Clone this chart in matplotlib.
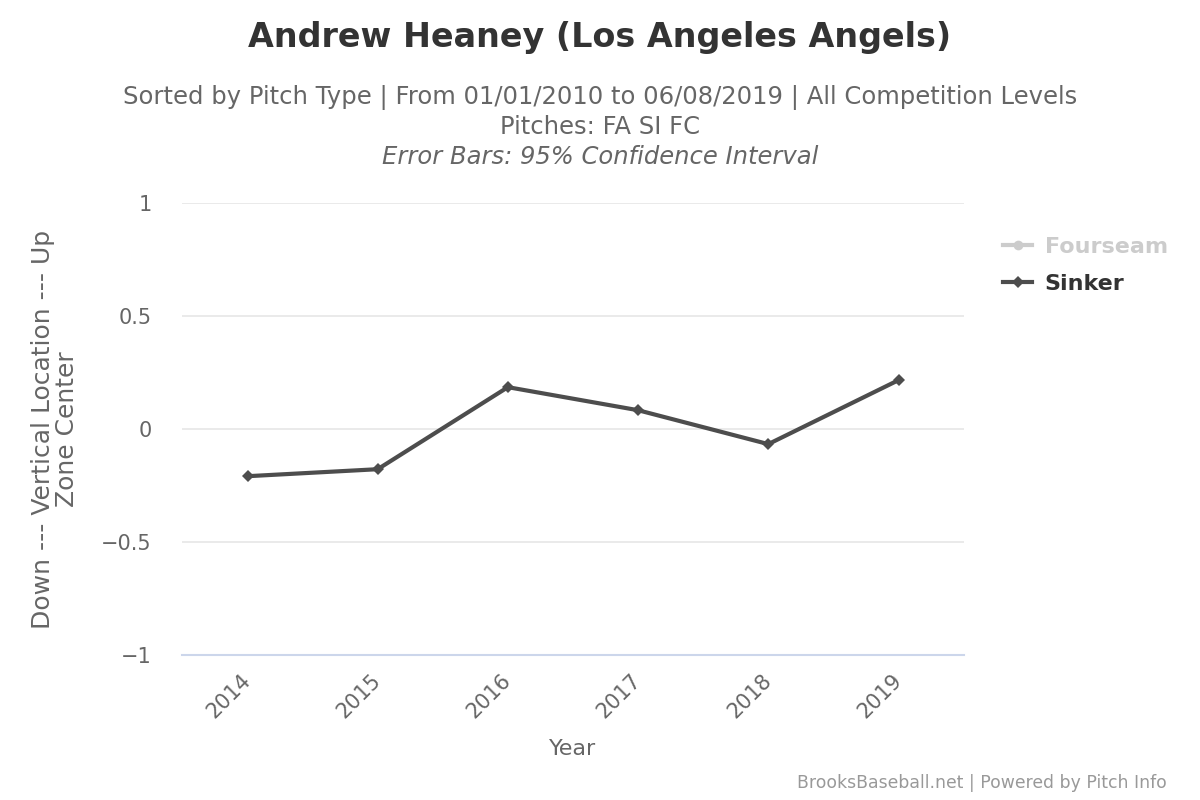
import matplotlib
matplotlib.use("Agg")
import matplotlib.pyplot as plt
import matplotlib.transforms as mtransforms
from matplotlib.lines import Line2D

plt.rcParams['font.family'] = ['DejaVu Sans']

years = ["2014", "2015", "2016", "2017", "2018", "2019"]
sinker = [-0.208, -0.177, 0.186, 0.084, -0.066, 0.217]
y_ticks = [-1, -0.5, 0, 0.5, 1]
y_labels = ["\u22121", "\u22120.5", "0", "0.5", "1"]

fig = plt.figure(figsize=(12, 8), dpi=100)
ax = fig.add_axes([0.152, 0.181, 0.651, 0.565])

x = list(range(len(years)))
ax.plot(x, sinker, color='#4d4d4d', linewidth=3, marker='D', markersize=6.5,
        markeredgewidth=0, zorder=3)

ax.set_xlim(-0.5, len(years) - 0.5)
ax.set_ylim(-1, 1)
ax.set_yticks(y_ticks)
ax.set_yticklabels(y_labels)
ax.set_xticks(x)
ax.set_xticklabels(years, rotation=45, ha='right', va='center', rotation_mode='anchor')
# shift the rotated year labels a bit right, like the original
shift = mtransforms.ScaledTranslation(8 / 100, 0, fig.dpi_scale_trans)
for lbl in ax.get_xticklabels():
    lbl.set_transform(lbl.get_transform() + shift)

for v in y_ticks[1:]:
    ax.axhline(v, color='#e6e6e6', linewidth=1.2, zorder=1)
ax.axhline(-1, color='#ccd6eb', linewidth=1.5, zorder=2, clip_on=False)

for s in ax.spines.values():
    s.set_visible(False)
ax.tick_params(axis='both', length=0, labelsize=15, colors='#666666')
ax.tick_params(axis='y', pad=22)
ax.tick_params(axis='x', pad=16)

ax.set_xlabel("Year", fontsize=16, color='#666666', labelpad=12)
ax.set_ylabel("Down --- Vertical Location --- Up\nZone Center", fontsize=18,
              color='#666666', labelpad=16, linespacing=1.0)

fig.text(0.5, 0.953, "Andrew Heaney (Los Angeles Angels)", ha='center', va='center',
         fontsize=24, fontweight='bold', color='#333333')
fig.text(0.5, 0.878, "Sorted by Pitch Type | From 01/01/2010 to 06/08/2019 | All Competition Levels",
         ha='center', va='center', fontsize=17.5, color='#666666')
fig.text(0.5, 0.841, "Pitches: FA SI FC", ha='center', va='center', fontsize=17.5, color='#666666')
fig.text(0.5, 0.804, "Error Bars: 95% Confidence Interval", ha='center', va='center',
         fontsize=17.5, color='#666666', style='italic')

handles = [
    Line2D([], [], color='#cccccc', linewidth=3, marker='o', markersize=7, markeredgewidth=0),
    Line2D([], [], color='#4d4d4d', linewidth=3, marker='D', markersize=6, markeredgewidth=0),
]
leg = fig.legend(handles, ["Fourseam", "Sinker"], loc='center left',
                 bbox_to_anchor=(0.8195, 0.668), frameon=False,
                 handlelength=1.3, handletextpad=0.55, labelspacing=0.75,
                 prop={'weight': 'bold', 'size': 16})
leg.get_texts()[0].set_color('#cccccc')
leg.get_texts()[1].set_color('#333333')

fig.text(0.9725, 0.021, "BrooksBaseball.net | Powered by Pitch Info", ha='right', va='center',
         fontsize=12.4, color='#999999')

fig.savefig("out.png", dpi=100)
